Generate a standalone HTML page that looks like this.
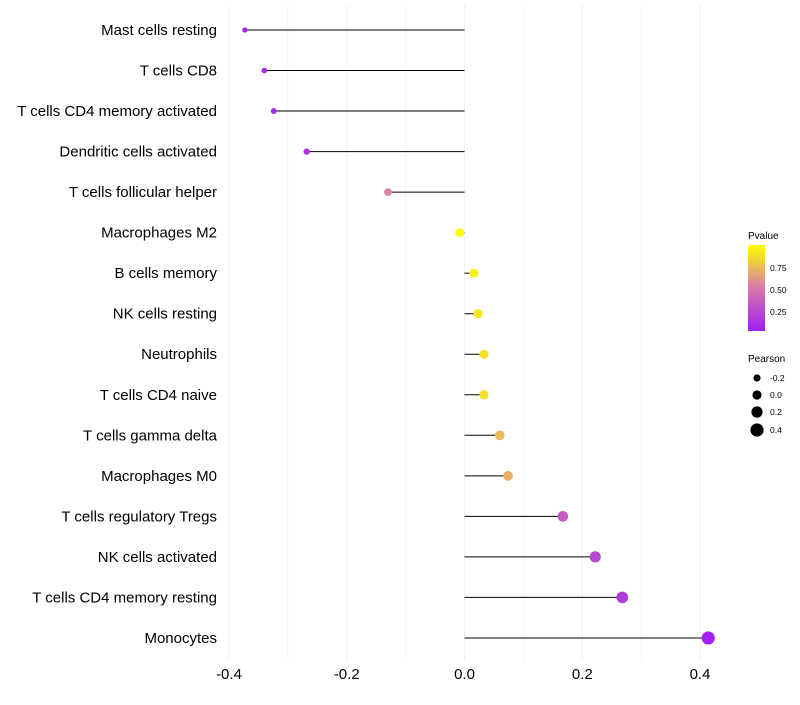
<!DOCTYPE html>
<html><head><meta charset="utf-8"><style>
body{margin:0;background:#fff;font-family:"Liberation Sans",sans-serif}
</style></head><body>
<svg id="chart" width="800" height="700" xmlns="http://www.w3.org/2000/svg">
<defs><linearGradient id="pg" x1="0" y1="1" x2="0" y2="0">
<stop offset="0" stop-color="#A020F0"/><stop offset="0.5" stop-color="#D87AAA"/><stop offset="1" stop-color="#FFFF00"/>
</linearGradient></defs>
<g id="grid"></g><g id="marks"></g><g id="labels"></g>
<g font-size="10">
<text x="748" y="239" fill="#000">Pvalue</text>
<rect x="748" y="245" width="17" height="86" fill="url(#pg)"/>
<text x="770" y="271" font-size="8.5">0.75</text>
<text x="770" y="293" font-size="8.5">0.50</text>
<text x="770" y="315" font-size="8.5">0.25</text>
</g>
<g>
<text x="748" y="362" font-size="10">Pearson</text>
<circle cx="757" cy="378" r="3.6"/><text x="770" y="381" font-size="8.5">-0.2</text>
<circle cx="757" cy="395" r="4.6"/><text x="770" y="398" font-size="8.5">0.0</text>
<circle cx="757" cy="412" r="5.6"/><text x="770" y="415" font-size="8.5">0.2</text>
<circle cx="757" cy="430" r="6.6"/><text x="770" y="433" font-size="8.5">0.4</text>
</g>
</svg>
<script>
const categories=["Mast cells resting","T cells CD8","T cells CD4 memory activated","Dendritic cells activated","T cells follicular helper","Macrophages M2","B cells memory","NK cells resting","Neutrophils","T cells CD4 naive","T cells gamma delta","Macrophages M0","T cells regulatory  Tregs ","NK cells activated","T cells CD4 memory resting","Monocytes"];
const pearson=[-0.373,-0.340,-0.324,-0.268,-0.130,-0.008,0.016,0.023,0.033,0.033,0.060,0.074,0.167,0.222,0.268,0.414];
const pvalue=[0.15,0.17,0.18,0.22,0.60,0.99,0.95,0.92,0.90,0.89,0.78,0.74,0.42,0.33,0.26,0.14];
const ticks=[-0.4,-0.2,0.0,0.2,0.4];
const tickLabels=["-0.4","-0.2","0.0","0.2","0.4"];
const NS="http://www.w3.org/2000/svg";
const x=v=>464.5+v*588.75;
const y=i=>30+i*40.53;
const r=v=>4.5+5*v;
function lerp(a,b,t){return a.map((c,k)=>Math.round(c+(b[k]-c)*t));}
function col(p){const t=(p-0.136)/(1-0.136);const s=[[160,32,240],[216,122,170],[255,255,0]];
const c=t<0.5?lerp(s[0],s[1],Math.max(0,t)/0.5):lerp(s[1],s[2],(Math.min(1,t)-0.5)/0.5);return `rgb(${c})`;}
function mk(tag,at,parent){const e=document.createElementNS(NS,tag);for(const k in at)e.setAttribute(k,at[k]);parent.appendChild(e);return e;}
const grid=document.getElementById('grid'),marks=document.getElementById('marks'),labels=document.getElementById('labels');
for(let v=-0.4;v<=0.401;v+=0.1){const l=mk('line',{x1:x(v),x2:x(v),y1:5,y2:660,stroke:'#f0f0f0','stroke-width':Math.abs(Math.round(v*10))%2==0?1:0.6},grid);

}
ticks.forEach((t,i)=>{const e=mk('text',{x:x(t),y:679,'text-anchor':'middle','font-size':15,fill:'#000'},labels);e.textContent=tickLabels[i];

});
categories.forEach((c,i)=>{const e=mk('text',{x:217,y:y(i)+5,'text-anchor':'end','font-size':15,fill:'#000'},labels);e.textContent=c;
e.setAttribute('xml:space','preserve');


const ln=mk('line',{x1:x(0),x2:x(pearson[i]),y1:y(i),y2:y(i),stroke:'#000','stroke-width':1},marks);


const ci=mk('circle',{cx:x(pearson[i]),cy:y(i),r:r(pearson[i]),fill:col(pvalue[i])},marks);

});
</script>
</body></html>
